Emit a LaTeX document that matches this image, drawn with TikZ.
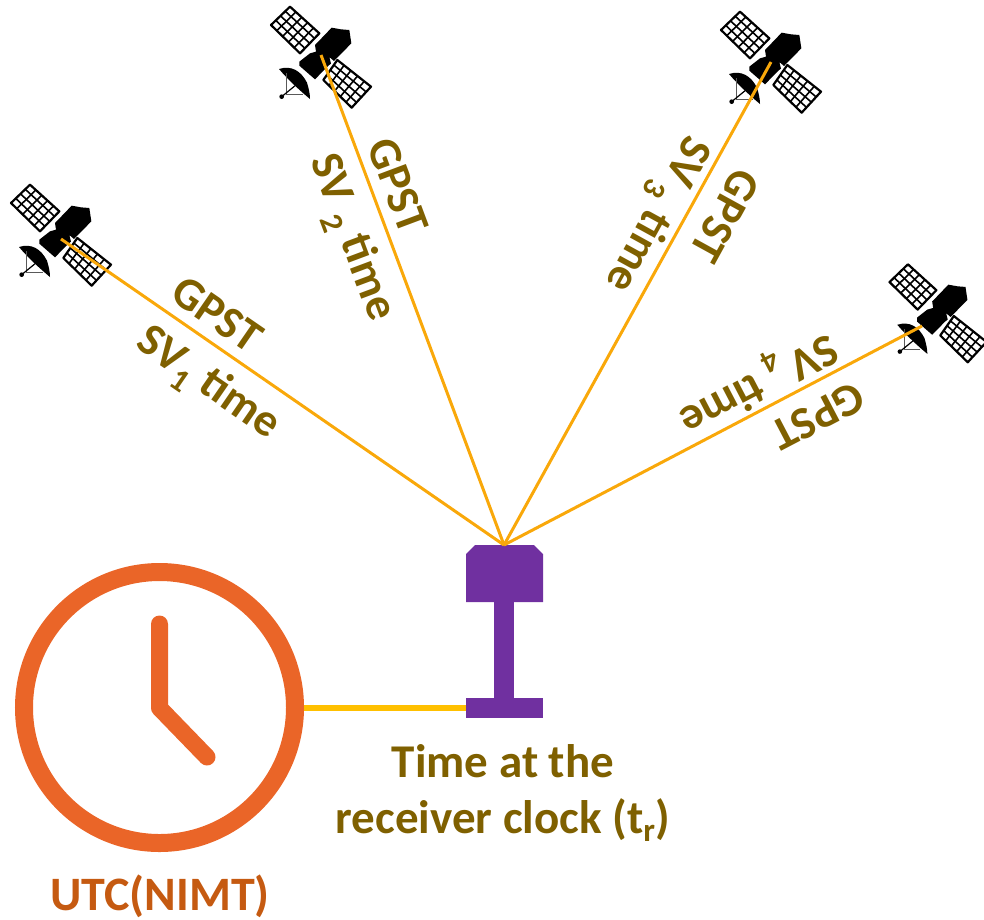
\documentclass[tikz,border=0pt]{standalone}
\usepackage{fontspec}
\setmainfont{Carlito}
\definecolor{linec}{HTML}{F9A80A}
\definecolor{wirec}{HTML}{FFC000}
\definecolor{txtc}{HTML}{7F6000}
\definecolor{utcc}{HTML}{C55A11}
\definecolor{clockc}{HTML}{EA6528}
\definecolor{recv}{HTML}{7030A0}
\tikzset{
  sig/.style={linec,line width=3pt},
  lab/.style={txtc,font=\fontsize{46}{50}\selectfont\bfseries,inner sep=0pt},
  cap1/.style={txtc,font=\fontsize{47}{56}\selectfont\bfseries,inner sep=0pt,align=center},
  recvfill/.style={fill=recv,draw=none},
  panelgrid/.style={black,line width=1.6pt},
  sat/.pic={
    \begin{scope}[x=0.3333pt,y=-0.3333pt]
      \foreach \ax/\ay/\bx/\by/\cx/\cy/\dx/\dy in {-93/-163/-150/-108/-63/-23/-5/-83, 49/-3/7/57/92/140/150/77}{
        \draw[black,fill=white,line width=2.2pt,line join=round] (\ax,\ay)--(\bx,\by)--(\cx,\cy)--(\dx,\dy)--cycle;
        \foreach \t in {0.25,0.5,0.75}
          \draw[panelgrid] ({\ax+\t*(\bx-\ax)},{\ay+\t*(\by-\ay)})--({\dx+\t*(\cx-\dx)},{\dy+\t*(\cy-\dy)});
        \foreach \t in {0.2,0.4,0.6,0.8}
          \draw[panelgrid] ({\ax+\t*(\dx-\ax)},{\ay+\t*(\dy-\ay)})--({\bx+\t*(\cx-\bx)},{\by+\t*(\cy-\by)});
      }
      \fill[black] (-65,2)--(-33,-23)--(-15,-28)--(-18,-48)--(32,-100)--(60,-95)--(85,-93)--(91,-53)--(39,0)--(25,-12)--(30,8)--(22,14)--(-18,55)--(-65,14)--cycle;
      \fill[black] (-126,24) .. controls (-88,12) and (-60,30) .. (-42,65) .. controls (-36,85) and (-33,100) .. (-33,114) .. controls (-60,92) and (-100,55) .. cycle;
      \draw[black!65,line width=0.9pt] (-103,37)--(-103,100)--(-55,100);
      \draw[black,line width=1.2pt] (-118,107)--(-63,62);
      \fill[black] (-118,107) circle (7);
    \end{scope}
  }
}
\begin{document}
\begin{tikzpicture}[x=1pt,y=-1pt]
\useasboundingbox (0,0) rectangle (984,919);
\pic at (61,239) {sat};
\pic at (321,61) {sat};
\pic at (771,66) {sat};
\pic[scale=0.97] at (938,317) {sat};
\coordinate (s1) at (61,239);
\coordinate (s2) at (321,55);
\coordinate (s3) at (771,62);
\coordinate (s4) at (922,326);
\fill[recvfill] (494,600) rectangle (514,700);
\fill[recvfill] (466,698) rectangle (543,718);
\path[recvfill] (466,554)--(475,545)--(534,545)--(543,554)--(543,602)--(466,602)--cycle;
\coordinate (rt) at (504,545);
\coordinate (rb) at (466,707.5);
\draw[sig] (s1)--(rt);
\draw[sig] (s2)--(rt);
\draw[sig] (s3)--(rt);
\draw[sig] (s4)--(rt);
\node[circle,draw=clockc,line width=18pt,minimum size=271pt,inner sep=0pt] (clk) at (159.5,707.5) {};
\draw[clockc,line width=17pt,line cap=round,line join=round] (159.5,624)--(159.5,708)--(207,757);
\draw[wirec,line width=6pt] (clk.east)--(rb);
\node[lab,rotate=-34.6] (a1) at (217,314) {GPST};
\node[lab,rotate=-34.6] (b1) at (207,385) {SV\textsubscript{1} time};
\node[lab,rotate=-69.5] (a2) at (398,186) {GPST};
\node[lab,rotate=-69.5] (b2) at (350,238) {SV \textsubscript{2} time};
\node[lab,rotate=-118.8] (a3) at (725,216) {GPST};
\node[lab,rotate=-118.8] (b3) at (655,213) {SV\,\textsubscript{3} time};
\node[lab,rotate=-152.4] (a4) at (818,416) {GPST};
\node[lab,rotate=-152.4] (b4) at (757,382) {SV\,\textsubscript{4} time};
\node[cap1] (cap) at (503,793) {Time at the\\receiver clock (t\textsubscript{r})};
\node[inner sep=0pt,font=\fontsize{48}{52}\selectfont\bfseries,text=utcc] (utc) at (160,896) {UTC(NIMT)};
\end{tikzpicture}
\end{document}
